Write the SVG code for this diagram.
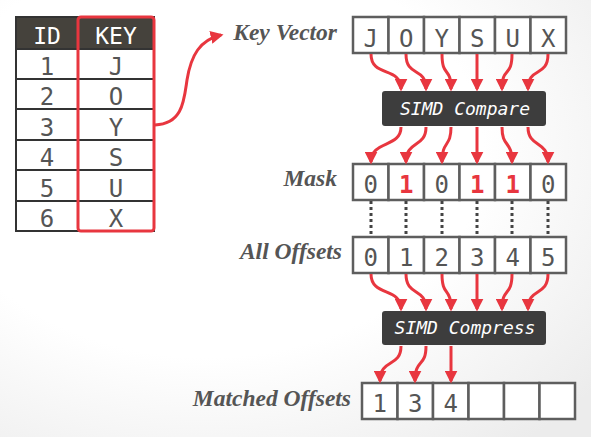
<svg xmlns="http://www.w3.org/2000/svg" width="591" height="437" viewBox="0 0 591 437">
  <defs>
    <radialGradient id="bg" cx="0.35" cy="0.35" r="0.85">
      <stop offset="0.55" stop-color="#ffffff"/>
      <stop offset="1" stop-color="#ececec"/>
    </radialGradient>
    <marker id="ah" viewBox="0 0 10 10" refX="8" refY="5" markerWidth="13" markerHeight="13" markerUnits="userSpaceOnUse" orient="auto">
      <path d="M0,0 L10,5 L0,10 z" fill="#e8363f"/>
    </marker>
  </defs>
  <style>
    .cell { fill: #ffffff; stroke: #5e5e5e; stroke-width: 2.5; }
    .tcell { fill: #ffffff; stroke: #333333; stroke-width: 2; }
    .hdr { fill: #45423c; stroke: #333333; stroke-width: 2; }
    .mono { font-family: "DejaVu Sans Mono", "Liberation Mono", monospace; font-size: 24px; fill: #555555; text-anchor: middle; }
    .hdrt { font-family: "DejaVu Sans Mono", "Liberation Mono", monospace; font-size: 23px; fill: #ffffff; text-anchor: middle; }
    .red1 { fill: #e8363f; font-weight: bold; }
    .lbl { font-family: "Liberation Serif", serif; font-style: italic; font-weight: bold; font-size: 23.5px; fill: #555555; text-anchor: end; }
    .box { fill: #3d3d3d; }
    .boxt { font-family: "DejaVu Sans Mono", "Liberation Mono", monospace; font-style: italic; font-size: 18px; fill: #ffffff; text-anchor: middle; }
    .arr { fill: none; stroke: #e8363f; stroke-width: 3; marker-end: url(#ah); }
    .dot { fill: none; stroke: #444444; stroke-width: 3; stroke-dasharray: 3 3; }
  </style>
  <rect width="591" height="437" fill="url(#bg)"/>

  <g id="table">
    <rect class="hdr" x="16" y="17" width="138" height="32"/>
    <rect class="tcell" x="16" y="49" width="62" height="30"/>
    <rect class="tcell" x="78" y="49" width="76" height="30"/>
    <rect class="tcell" x="16" y="79" width="62" height="30"/>
    <rect class="tcell" x="78" y="79" width="76" height="30"/>
    <rect class="tcell" x="16" y="109" width="62" height="31"/>
    <rect class="tcell" x="78" y="109" width="76" height="31"/>
    <rect class="tcell" x="16" y="140" width="62" height="30"/>
    <rect class="tcell" x="78" y="140" width="76" height="30"/>
    <rect class="tcell" x="16" y="170" width="62" height="31"/>
    <rect class="tcell" x="78" y="170" width="76" height="31"/>
    <rect class="tcell" x="16" y="201" width="62" height="30"/>
    <rect class="tcell" x="78" y="201" width="76" height="30"/>
    <text class="hdrt" x="47" y="44">ID</text>
    <text class="hdrt" x="116" y="44">KEY</text>
    <text class="mono" x="47" y="75">1</text>
    <text class="mono" x="116" y="75">J</text>
    <text class="mono" x="47" y="105">2</text>
    <text class="mono" x="116" y="105">O</text>
    <text class="mono" x="47" y="136">3</text>
    <text class="mono" x="116" y="136">Y</text>
    <text class="mono" x="47" y="166">4</text>
    <text class="mono" x="116" y="166">S</text>
    <text class="mono" x="47" y="197">5</text>
    <text class="mono" x="116" y="197">U</text>
    <text class="mono" x="47" y="227">6</text>
    <text class="mono" x="116" y="227">X</text>
    <rect x="78" y="17" width="76" height="214" rx="3" fill="none" stroke="#e8363f" stroke-width="3"/>
  </g>

  <g id="key-vector">
    <text class="lbl" x="337" y="40">Key Vector</text>
    <rect class="cell" x="353" y="17" width="35.5" height="36"/>
    <rect class="cell" x="388.5" y="17" width="35.5" height="36"/>
    <rect class="cell" x="424" y="17" width="35.5" height="36"/>
    <rect class="cell" x="459.5" y="17" width="35.5" height="36"/>
    <rect class="cell" x="495" y="17" width="35.5" height="36"/>
    <rect class="cell" x="530.5" y="17" width="35.5" height="36"/>
    <text class="mono" x="370.75" y="47">J</text>
    <text class="mono" x="406.25" y="47">O</text>
    <text class="mono" x="441.75" y="47">Y</text>
    <text class="mono" x="477.25" y="47">S</text>
    <text class="mono" x="512.75" y="47">U</text>
    <text class="mono" x="548.25" y="47">X</text>
  </g>

  <g id="simd-compare">
    <rect class="box" x="382" y="91" width="164" height="35" rx="3"/>
    <text class="boxt" x="465" y="115">SIMD Compare</text>
  </g>

  <g id="mask">
    <text class="lbl" x="337" y="186">Mask</text>
    <rect class="cell" x="353" y="164" width="35.5" height="36"/>
    <rect class="cell" x="388.5" y="164" width="35.5" height="36"/>
    <rect class="cell" x="424" y="164" width="35.5" height="36"/>
    <rect class="cell" x="459.5" y="164" width="35.5" height="36"/>
    <rect class="cell" x="495" y="164" width="35.5" height="36"/>
    <rect class="cell" x="530.5" y="164" width="35.5" height="36"/>
    <text class="mono" x="370.75" y="193">0</text>
    <text class="mono red1" x="406.25" y="193">1</text>
    <text class="mono" x="441.75" y="193">0</text>
    <text class="mono red1" x="477.25" y="193">1</text>
    <text class="mono red1" x="512.75" y="193">1</text>
    <text class="mono" x="548.25" y="193">0</text>
  </g>

  <g id="all-offsets">
    <text class="lbl" x="342" y="259">All Offsets</text>
    <rect class="cell" x="353" y="237" width="35.5" height="36"/>
    <rect class="cell" x="388.5" y="237" width="35.5" height="36"/>
    <rect class="cell" x="424" y="237" width="35.5" height="36"/>
    <rect class="cell" x="459.5" y="237" width="35.5" height="36"/>
    <rect class="cell" x="495" y="237" width="35.5" height="36"/>
    <rect class="cell" x="530.5" y="237" width="35.5" height="36"/>
    <text class="mono" x="370.75" y="266">0</text>
    <text class="mono" x="406.25" y="266">1</text>
    <text class="mono" x="441.75" y="266">2</text>
    <text class="mono" x="477.25" y="266">3</text>
    <text class="mono" x="512.75" y="266">4</text>
    <text class="mono" x="548.25" y="266">5</text>
  </g>

  <g id="simd-compress">
    <rect class="box" x="382" y="311" width="164" height="34" rx="3"/>
    <text class="boxt" x="465" y="334">SIMD Compress</text>
  </g>

  <g id="matched-offsets">
    <text class="lbl" x="351" y="406">Matched Offsets</text>
    <rect class="cell" x="362" y="383" width="35.5" height="36"/>
    <rect class="cell" x="397.5" y="383" width="35.5" height="36"/>
    <rect class="cell" x="433" y="383" width="35.5" height="36"/>
    <rect class="cell" x="468.5" y="383" width="35.5" height="36"/>
    <rect class="cell" x="504" y="383" width="35.5" height="36"/>
    <rect class="cell" x="539.5" y="383" width="35.5" height="36"/>
    <text class="mono" x="379.75" y="412">1</text>
    <text class="mono" x="415.25" y="412">3</text>
    <text class="mono" x="450.75" y="412">4</text>
  </g>

  <g id="connectors">
    <path class="arr" d="M155,125 C183,124 184,100 187,80 C191,55 200,40 221,35"/>
    <path class="arr" d="M371,54 C371,78 401,66 401,89"/>
    <path class="arr" d="M406,54 C406,78 426,66 426,89"/>
    <path class="arr" d="M442,54 C442,78 451,66 451,89"/>
    <path class="arr" d="M477,54 L477,89"/>
    <path class="arr" d="M512,54 C512,78 502,66 502,89"/>
    <path class="arr" d="M548,54 C548,78 528,66 528,89"/>

    <path class="arr" d="M401,127 C401,148 371,140 371,162"/>
    <path class="arr" d="M426,127 C426,148 406,140 406,162"/>
    <path class="arr" d="M451,127 C451,148 442,140 442,162"/>
    <path class="arr" d="M477,127 L477,162"/>
    <path class="arr" d="M502,127 C502,148 512,140 512,162"/>
    <path class="arr" d="M528,127 C528,148 548,140 548,162"/>

    <path class="dot" d="M371,201 V236"/>
    <path class="dot" d="M406,201 V236"/>
    <path class="dot" d="M442,201 V236"/>
    <path class="dot" d="M477,201 V236"/>
    <path class="dot" d="M512,201 V236"/>
    <path class="dot" d="M548,201 V236"/>

    <path class="arr" d="M371,274 C371,297 401,287 401,309"/>
    <path class="arr" d="M406,274 C406,297 426,287 426,309"/>
    <path class="arr" d="M442,274 C442,297 451,287 451,309"/>
    <path class="arr" d="M477,274 L477,309"/>
    <path class="arr" d="M512,274 C512,297 502,287 502,309"/>
    <path class="arr" d="M548,274 C548,297 528,287 528,309"/>

    <path class="arr" d="M401,346 C401,368 380,358 380,381"/>
    <path class="arr" d="M426,346 C426,368 415,358 415,381"/>
    <path class="arr" d="M451,346 L451,381"/>
  </g>
</svg>
